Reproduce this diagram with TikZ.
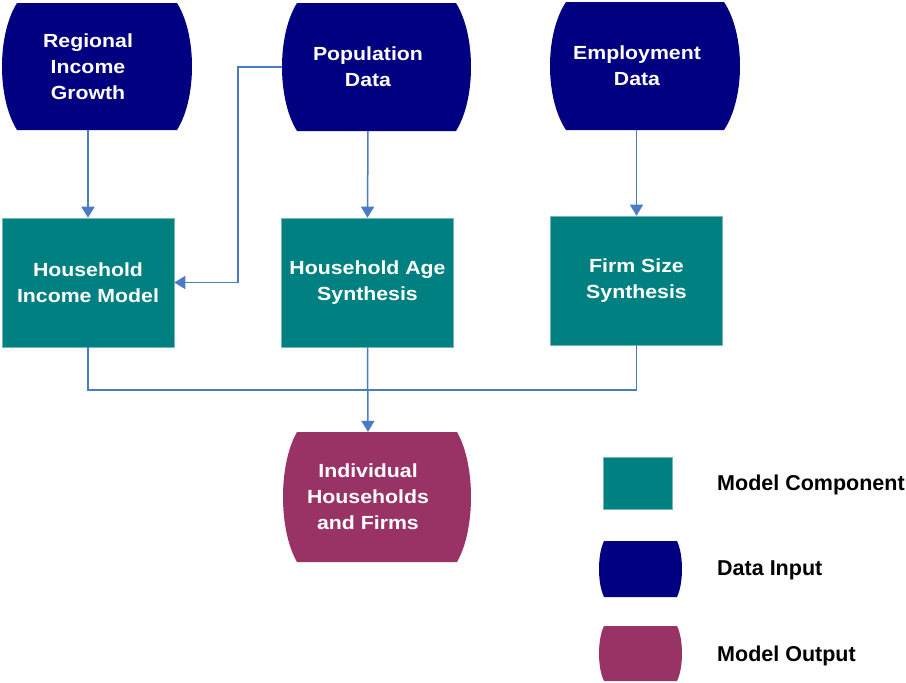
\documentclass[tikz,border=0pt]{standalone}
\usepackage{fontspec}
\setmainfont{Liberation Sans}
\newfontfamily\boxfam[FakeStretch=1.12]{Liberation Sans}
\usetikzlibrary{arrows.meta,calc}
\definecolor{navyc}{HTML}{000080}
\definecolor{tealc}{HTML}{008080}
\definecolor{maroonc}{HTML}{993366}
\definecolor{linec}{HTML}{4A7CC6}
\newcommand{\datashape}[6]{% color, x left, x right, y top, y bottom, bulge depth
  \pgfmathsetmacro{\dsq}{(#5-#4)/4}%
  \fill[#1] (#2+#6,#4) -- (#3-#6,#4)
    .. controls (#3+#6/3,#4+\dsq) and (#3+#6/3,#5-\dsq) .. (#3-#6,#5)
    -- (#2+#6,#5)
    .. controls (#2-#6/3,#5-\dsq) and (#2-#6/3,#4+\dsq) .. cycle;}
\tikzset{
  boxtxt/.style={text=white, font=\boxfam\bfseries\fontsize{19}{26}\selectfont, align=center, inner sep=0pt},
  comp/.style={boxtxt, fill=tealc, draw=tealc!55, line width=0.6pt, minimum width=172, minimum height=129},
  datatxt/.style={boxtxt, minimum width=172},
  legtxt/.style={font=\bfseries\fontsize{21.5}{25}\selectfont, text=black, inner sep=0pt, anchor=base west},
  conn/.style={draw=linec, line width=1.5pt},
  arr/.style={conn, -{Triangle[width=13pt,length=11pt]}}
}
\begin{document}
\begin{tikzpicture}[x=1pt,y=-1pt]
\fill[white] (0,0) rectangle (906,683);
\useasboundingbox (0,0) rectangle (906,683);
% data input shapes
\datashape{navyc}{2}{192}{3}{130}{15}
\datashape{navyc}{282}{471}{3}{131}{15}
\datashape{navyc}{550}{740}{2}{130}{16}
% output shape
\datashape{maroonc}{283}{471}{432}{562}{14}
% texts of data shapes
\node[datatxt, minimum height=127] (rig) at (88,66.5) {Regional\\Income\\Growth};
\node[datatxt, minimum height=128] (pop) at (368,67) {Population\\Data};
\node[datatxt, minimum height=128] (emp) at (637,66) {Employment\\Data};
\node[datatxt, minimum height=130] (out) at (368,497) {Individual\\Households\\and Firms};
% model components
\node[comp] (him) at (88,282.5) {Household\\Income Model};
\node[comp] (has) at (367.5,282.5) {Household Age\\Synthesis};
\node[comp] (fss) at (636.5,280.5) {Firm Size\\Synthesis};
% connectors
\draw[arr] (rig.south) -- (him.north);
\draw[arr] (pop.south) -- (has.north);
\draw[arr] (emp.south -| fss.north) -- (fss.north);
\coordinate (bend) at (238,67);
\draw[arr] (pop.west) -- (bend) |- (him.east);
\coordinate (join) at (367.5,390);
\draw[conn] (him.south) |- (join);
\draw[conn] (fss.south) |- (join);
\draw[arr] (has.south) -- (out.north);
% legend
\node[fill=tealc, draw=tealc!55, line width=0.6pt, minimum width=69, minimum height=52, inner sep=0pt] (lgc) at (637.5,483) {};
\datashape{navyc}{599}{682}{541}{597}{5}
\datashape{maroonc}{599}{682}{626}{681}{5}
\node[legtxt] (lgct) at (717,490) {Model Component};
\node[legtxt] (lgdt) at (717,575.5) {Data Input};
\node[legtxt] (lgot) at (717,661.5) {Model Output};
\end{tikzpicture}
\end{document}
